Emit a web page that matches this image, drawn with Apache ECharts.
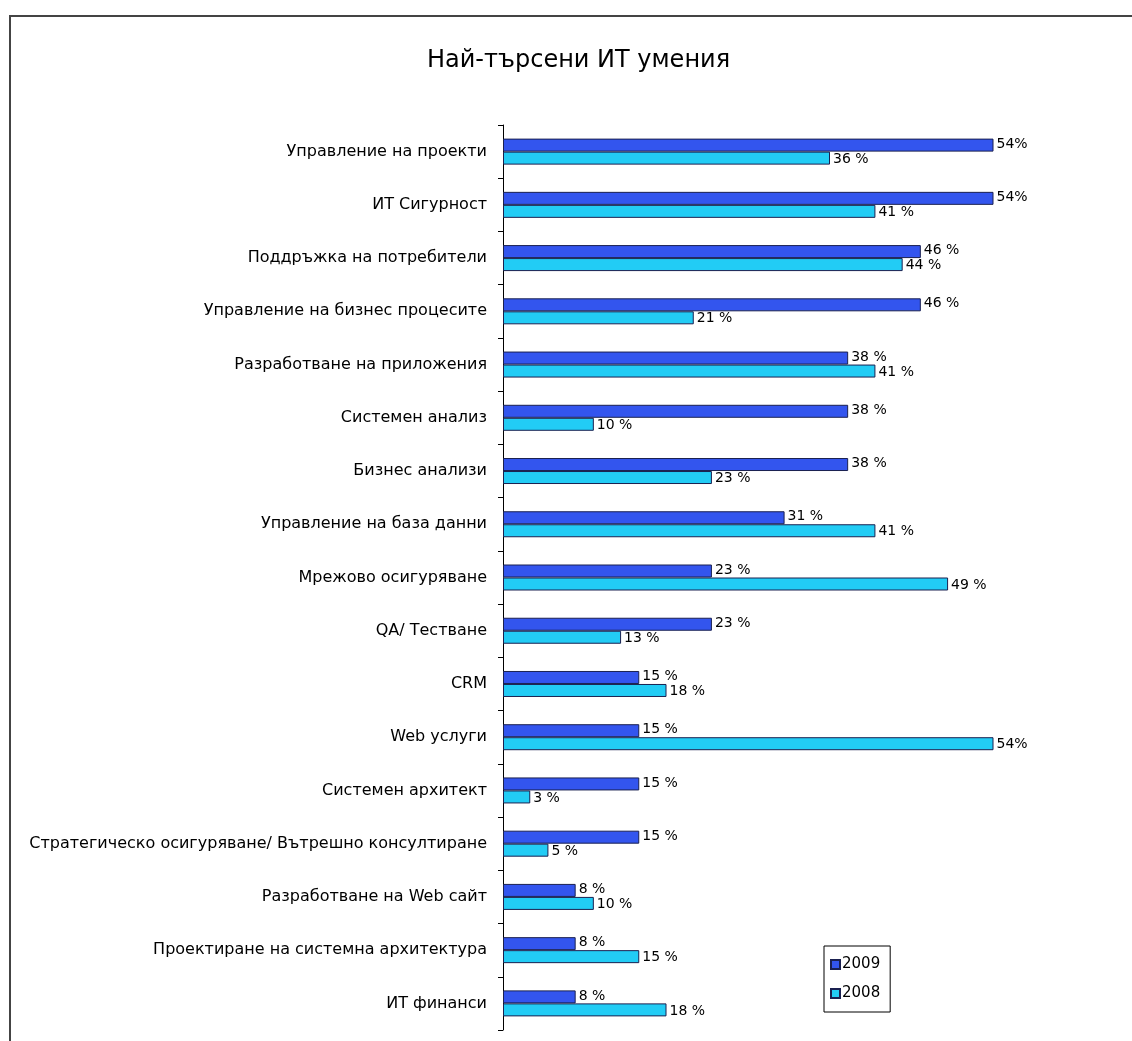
<!DOCTYPE html>
<html>
<head>
<meta charset="utf-8">
<script src="https://cdn.jsdelivr.net/npm/echarts@6/dist/echarts.min.js"></script>
<style>
  html, body { margin: 0; padding: 0; background: #fff; }
  #chart { width: 1132px; height: 1041px; }
</style>
</head>
<body>
<div id="chart"></div>
<script>
const categories = [
  'Управление на проекти',
  'ИТ Сигурност',
  'Поддръжка на потребители',
  'Управление на бизнес процесите',
  'Разработване на приложения',
  'Системен анализ',
  'Бизнес анализи',
  'Управление на база данни',
  'Мрежово осигуряване',
  'QA/ Тестване',
  'CRM',
  'Web услуги',
  'Системен архитект',
  'Стратегическо осигуряване/ Вътрешно консултиране',
  'Разработване на Web сайт',
  'Проектиране на системна архитектура',
  'ИТ финанси'
]
const values2009 = [54, 54, 46, 46, 38, 38, 38, 31, 23, 23, 15, 15, 15, 15, 8, 8, 8]
const values2008 = [36, 41, 44, 21, 41, 10, 23, 41, 49, 13, 18, 54, 3, 5, 10, 15, 18]

const font = 'DejaVu Sans, sans-serif'
const pct = p => p.value >= 50 ? p.value + '%' : p.value + ' %'

const chart = echarts.init(document.getElementById('chart'))

chart.setOption({
  backgroundColor: '#fff',
  animation: false,
  title: {
    text: 'Най-търсени ИТ умения',
    left: 422,
    top: 44,
    textStyle: { fontFamily: font, fontSize: 24, fontWeight: 'normal', color: '#000' },
  },
  graphic: [{
    type: 'polyline',
    shape: { points: [[10, 1041], [10, 16], [1132, 16]] },
    style: { stroke: '#444', lineWidth: 2, fill: null },
  }],
  legend: {
    orient: 'vertical',
    left: 824,
    top: 946,
    padding: [11, 10, 11, 6],
    itemGap: 14,
    itemWidth: 9,
    itemHeight: 9,
    borderColor: '#000',
    borderWidth: 1,
    icon: 'rect',
    textStyle: { fontFamily: font, fontSize: 15, color: '#000', padding: [0, 0, 0, -3] },
    data: ['2009', '2008'],
  },
  grid: { left: 503, top: 125, width: 545, bottom: 11 },
  xAxis: { type: 'value', min: 0, max: 60, show: false },
  yAxis: {
    type: 'category',
    data: categories,
    inverse: true,
    axisLine: { lineStyle: { color: '#000', width: 1 } },
    axisTick: { show: true, length: 5, lineStyle: { color: '#000' } },
    axisLabel: { fontFamily: font, fontSize: 16, color: '#000', margin: 16 },
  },
  series: [
    {
      name: '2009',
      type: 'bar',
      data: values2009,
      barWidth: 13,
      barGap: '0%',
      itemStyle: { color: '#3355ee', borderColor: '#1a2050', borderWidth: 1 },
      label: { show: true, position: 'right', distance: 3, formatter: pct, fontFamily: font, fontSize: 14, color: '#000', offset: [0, -1] },
    },
    {
      name: '2008',
      type: 'bar',
      data: values2008,
      barWidth: 13,
      itemStyle: { color: '#22ccf5', borderColor: '#1a2050', borderWidth: 1 },
      label: { show: true, position: 'right', distance: 3, formatter: pct, fontFamily: font, fontSize: 14, color: '#000', offset: [0, 1] },
    },
  ],
})
</script>
</body>
</html>
